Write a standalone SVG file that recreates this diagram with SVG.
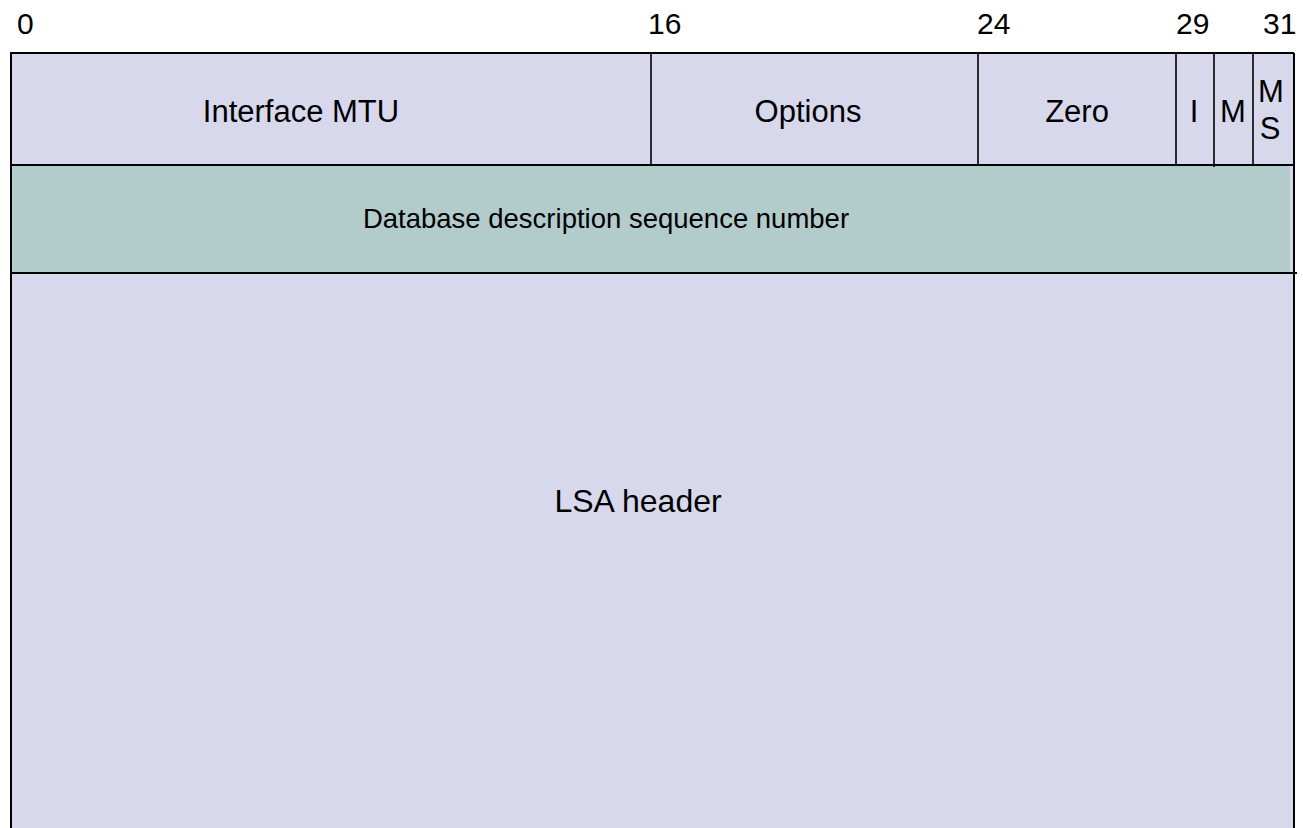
<svg xmlns="http://www.w3.org/2000/svg" width="1303" height="828" viewBox="0 0 1303 828">
<style>
text{font-family:"Liberation Sans",Arial,sans-serif;font-size:31px;fill:#000}
.c{text-anchor:middle}
.n{font-size:30px}
.s{font-size:27.5px}
.l{font-size:32px}
.ln{stroke:#000;stroke-width:2;fill:none}
.dv{stroke:#000;stroke-width:1.6;fill:none}
</style>
<rect x="0" y="0" width="1303" height="828" fill="#fff"/>
<g id="ruler">
<text class="n" x="17" y="34">0</text>
<text class="n" x="648" y="34">16</text>
<text class="n" x="977" y="34">24</text>
<text class="n" x="1176" y="34">29</text>
<text class="n" x="1263" y="34">31</text>
</g>
<g id="row1">
<rect x="10" y="53" width="1284" height="112" fill="#d8d8ec"/>
</g>
<g id="row2">
<rect x="11" y="165" width="1279" height="108" fill="#b2cccc"/>
<rect x="1290" y="165" width="4" height="108" fill="#d8d8ec"/>
</g>
<g id="row3">
<rect x="10" y="273" width="1284" height="555" fill="#d8d8ec"/>
</g>
<g id="lines">
<path class="ln" d="M10 53H1294M10 165H1294M10 273H1297"/>
<path class="ln" stroke-width="2.5" d="M11 53V828M1294 53V828"/>
<path class="dv" d="M651 53V165M978 53V166M1176 53V165M1214 53V167M1253 53V165"/>
</g>
<g id="interface-mtu"><text class="c" x="301" y="122">Interface MTU</text></g>
<g id="options"><text class="c" x="808" y="122">Options</text></g>
<g id="zero"><text class="c" x="1077" y="122">Zero</text></g>
<g id="flag-i"><text class="c" x="1194" y="122">I</text></g>
<g id="flag-m"><text class="c" x="1233" y="122">M</text></g>
<g id="flag-ms"><text class="c" x="1271" y="102">M</text><text class="c" x="1270" y="139">S</text></g>
<g id="seq"><text class="c s" x="606" y="228">Database description sequence number</text></g>
<g id="lsa"><text class="c l" x="638" y="512">LSA header</text></g>
</svg>
